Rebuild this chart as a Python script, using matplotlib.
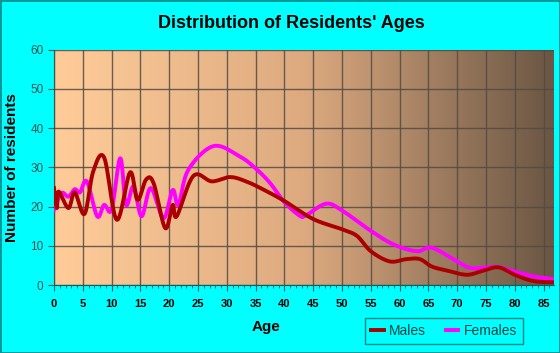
import numpy as np
import matplotlib.pyplot as plt
from matplotlib.colors import LinearSegmentedColormap

plt.rcParams['font.family'] = ['Liberation Sans', 'DejaVu Sans']

male_age = [0, 0.5, 0.8, 2.5, 3.6, 5.3, 6.8, 8.7, 10.9, 13.2, 14.5, 16.0, 17.3, 19.3, 20.6, 21.3,
            24.2, 27.4, 30.6, 33.5, 36.5, 40, 45, 50, 52.6, 55, 58.3, 61.2, 63.5, 65.6, 68.2,
            71.7, 74.6, 77.2, 80, 83.2, 86.6]
male_val = [24.7, 19.6, 23.8, 19.6, 23.6, 18.1, 28.9, 32.5, 16.6, 28.7, 21.7, 26.9, 25.9, 14.5, 20.4, 17.5,
            27.8, 26.4, 27.5, 26.3, 24.2, 21.4, 16.8, 14.2, 12.5, 8.6, 6.0, 6.6, 6.6, 4.7, 3.7,
            2.6, 3.7, 4.5, 2.6, 1.0, 0.7]

female_age = [0, 1.3, 2.5, 3.6, 4.5, 5.7, 7.5, 8.7, 10.0, 11.5, 12.5, 13.8, 15.2, 16.8, 19.0, 20.6,
              21.6, 23.3, 27.7, 32.3, 35, 37.5, 40, 42.6, 43.7, 47.2, 50, 55, 59, 63, 65.6, 70,
              72.5, 76.9, 80, 83.2, 86.6]
female_val = [19.2, 23.4, 22.5, 24.4, 23.6, 26.4, 17.5, 20.4, 19.2, 32.3, 20.4, 25.1, 17.5, 24.7, 17.0, 24.2,
              20.4, 29.3, 35.4, 32.7, 29.7, 26.0, 21.1, 17.7, 17.7, 20.7, 19.0, 13.8, 10.3, 8.6, 9.5, 6.0,
              4.3, 4.6, 3.4, 2.2, 1.5]

x_ticks = list(range(0, 90, 5))
y_ticks = list(range(0, 70, 10))


def smooth(xs, ys, n=12):
    # catmull-rom curve through the points, just for drawing
    xs = np.asarray(xs, float)
    ys = np.asarray(ys, float)
    px = np.concatenate([[2 * xs[0] - xs[1]], xs, [2 * xs[-1] - xs[-2]]])
    py = np.concatenate([[2 * ys[0] - ys[1]], ys, [2 * ys[-1] - ys[-2]]])
    t = np.linspace(0, 1, n, endpoint=False)
    ox, oy = [], []
    for i in range(1, len(px) - 2):
        for p, o in ((px, ox), (py, oy)):
            p0, p1, p2, p3 = p[i - 1], p[i], p[i + 1], p[i + 2]
            o.extend(0.5 * (2 * p1 + (-p0 + p2) * t + (2 * p0 - 5 * p1 + 4 * p2 - p3) * t ** 2
                            + (-p0 + 3 * p1 - 3 * p2 + p3) * t ** 3))
    ox.append(xs[-1])
    oy.append(ys[-1])
    return np.array(ox), np.array(oy)


fig = plt.figure(figsize=(5.6, 3.53), dpi=100, facecolor='#00FFFF',
                 edgecolor='#009999', linewidth=2)
ax = fig.add_axes([54 / 560, 1 - 285 / 353, 500 / 560, 235.5 / 353])

xmax = 86.8
cmap = LinearSegmentedColormap.from_list('bg', ['#FFCC99', '#DDAA80', '#6A5644'])
ax.imshow(np.linspace(0, 1, 256).reshape(1, -1), cmap=cmap, aspect='auto',
          extent=[0, xmax, 0, 60], zorder=0)

ax.set_xlim(0, xmax)
ax.set_ylim(0, 60)
ax.set_xticks(x_ticks)
ax.set_xticks(range(0, 87), minor=True)
ax.set_yticks(y_ticks)
ax.grid(True, color='#544a42', linewidth=1, alpha=0.85, zorder=1)
ax.set_axisbelow(False)

mx, my = smooth(male_age, male_val)
fx, fy = smooth(female_age, female_val)
ax.plot(fx, fy, color='#FF00FF', linewidth=2.8, label='Females', zorder=3)
ax.plot(mx, my, color='#AA0000', linewidth=2.8, label='Males', zorder=4)

for s in ['top', 'right']:
    ax.spines[s].set_visible(False)
ax.spines['left'].set_color('#006666')
ax.spines['bottom'].set_color('#006666')
ax.tick_params(axis='x', which='major', length=4, color='#006666', labelsize=8, pad=6)
ax.tick_params(axis='x', which='minor', length=2.5, color='#006666')
ax.tick_params(axis='y', length=4, color='#006666', labelsize=8.5, labelcolor='#2f5555')
for lb in ax.get_xticklabels():
    lb.set_fontweight('bold')

fig.text(266 / 560, 1 - 327 / 353, 'Age', ha='center', va='center', fontsize=11, fontweight='bold')
ax.set_ylabel('Number of residents', fontsize=11, fontweight='bold', labelpad=8)
fig.text(291 / 560, 1 - 24 / 353, "Distribution of Residents' Ages", ha='center', va='center',
         fontsize=13, fontweight='bold')

h, l = ax.get_legend_handles_labels()
leg = fig.legend(h[::-1], l[::-1], loc='center', bbox_to_anchor=(444 / 560, 1 - 331 / 353), ncol=2,
                 frameon=True, fancybox=False, edgecolor='#006666', facecolor='#00FFFF',
                 fontsize=10, handlelength=0.9, handletextpad=0.4, columnspacing=1.4,
                 borderpad=0.4)
leg.get_frame().set_linewidth(1)
for t in leg.get_texts():
    t.set_color('#004444')

fig.savefig('out.png', dpi=100, facecolor=fig.get_facecolor(), edgecolor=fig.get_edgecolor())
